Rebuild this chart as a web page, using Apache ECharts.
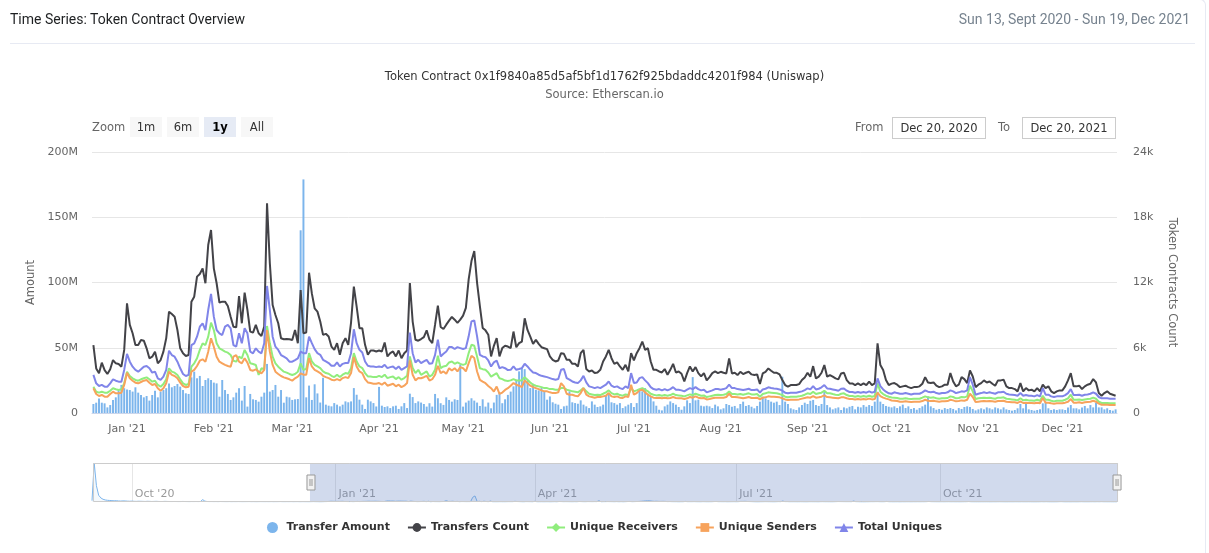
<!DOCTYPE html>
<html>
<head>
<meta charset="utf-8">
<title>Time Series: Token Contract Overview</title>
<script src="https://cdn.jsdelivr.net/npm/echarts@6/dist/echarts.min.js"></script>
<style>
    html, body { margin: 0; padding: 0; background: #fff; }
    #wrap { position: relative; width: 1209px; height: 553px; overflow: hidden; font-family: 'DejaVu Sans', sans-serif; }
    #chart { position: absolute; left: 0; top: 0; width: 1209px; height: 553px; }
    .card-edge { position: absolute; left: -10px; top: 0; width: 1216px; height: 600px; border-right: 1px solid #e7eaf3;
        border-top: 1px solid #e7eaf3; border-top-right-radius: 6px; box-sizing: border-box; top: -1px; }
    .card-head { position: absolute; left: 10px; top: 11px; font: 14px Roboto, sans-serif; color: #1e2022; }
    .card-date { position: absolute; right: 19px; top: 11px; font: 14px Roboto, sans-serif; color: #77838f; }
    .card-line { position: absolute; left: 10px; right: 14px; top: 43px; border-top: 1px solid #e7eaf3; }
    .rs-label { position: absolute; top: 120px; font-size: 11.5px; color: #666; }
    .rs-btn { position: absolute; top: 117px; width: 32px; height: 20px; line-height: 20px; text-align: center;
        background: #f7f7f7; color: #333; font-size: 11.5px; }
    .rs-btn.on { background: #e6ebf5; color: #000; font-weight: bold; }
    .rs-input { position: absolute; top: 117px; width: 92px; height: 20px; line-height: 20px; text-align: center;
        border: 1px solid #ccc; color: #333; font-size: 11.5px; }
</style>
</head>
<body>
<div id="wrap">
    <div class="card-edge"></div>
    <div id="chart"></div>
    <div class="card-head">Time Series: Token Contract Overview</div>
    <div class="card-date">Sun 13, Sept 2020 - Sun 19, Dec 2021</div>
    <div class="card-line"></div>
    <!-- range selector -->
    <div class="rs-label" style="left:92px;">Zoom</div>
    <div class="rs-btn" style="left:130px;">1m</div>
    <div class="rs-btn" style="left:167px;">6m</div>
    <div class="rs-btn on" style="left:204px;">1y</div>
    <div class="rs-btn" style="left:241px;">All</div>
    <div class="rs-label" style="left:855px;">From</div>
    <div class="rs-input" style="left:892px;">Dec 20, 2020</div>
    <div class="rs-label" style="left:998px;">To</div>
    <div class="rs-input" style="left:1022px;">Dec 20, 2021</div>
</div>
<script>
// 第一天的日期，之后每个值一天
const startDate = '2020-09-13';

// 转账金额（百万），2020-09-13 ~ 2020-12-19，只在导航条里看得到
const preAmount = [
    40, 1150, 480, 200, 120, 80, 60, 50, 45, 40, 35, 38, 30, 28, 32, 30, 25, 22,
    25, 20, 18, 22, 20, 18, 16, 20, 18, 15, 17, 19, 16, 14, 15, 18, 16, 14, 13, 15, 14, 12, 13, 16, 14, 12, 11, 13, 12, 14, 12,
    15, 70, 25, 14, 12, 13, 11, 12, 10, 14, 12, 11, 10, 12, 9, 11, 10, 12, 11, 9, 10, 11, 12, 9, 10, 8, 9, 11, 10, 9,
    10, 9, 11, 8, 9, 10, 12, 9, 8, 10, 9, 11, 8, 9, 10, 7, 9, 8, 7
];

// 转账金额（百万），2020-12-20 ~ 2021-12-20
const transferAmount = [
    6.9, 7.9, 11.2, 7.9, 7.4, 4.3, 6.1, 10, 12, 17, 21.5, 19,
    18, 17.6, 16.4, 19.7, 15.6, 13.8, 12, 13, 9.5, 13.8, 17, 12, 16.4, 17.6, 19, 22.7, 19.7, 20.7, 22.2, 20.2, 17.6, 15.1, 14.6, 27.3, 31.7, 26.6, 28.4, 20.7, 25.3, 26.6, 25.3,
    23.3, 22.7, 12.5, 25.3, 17.6, 14.6, 10, 12, 15.6, 19, 9.5, 20.7, 4.9, 14.6, 10.5, 10, 8.7, 12.5, 15.6, 37.6, 16.4, 17.6, 21.5, 12.5, 17.6, 7.9, 12.5, 12,
    10, 10.5, 10.7, 140, 179, 12, 21, 10, 22, 15, 8, 27, 6.4, 5.6, 5.1, 7.6, 6.4, 5.1, 6.4, 8.9, 8.2, 8.9, 19.1, 14, 10.2, 6.4, 3.1, 10.2, 8.9, 7.6, 5,
    20, 5.6, 4.6, 5.1, 3.8, 5.1, 5.6, 3.1, 5.1, 7.6, 3.8, 14.8, 12.2, 7.6, 8.9, 8, 6.9, 4.9, 7.5, 4.9, 14.6, 11.3, 7.5, 6.2, 12, 10, 8.7, 10.5, 10, 37,
    4.9, 8, 9.5, 11.3, 9.5, 8, 5.4, 10.5, 4.9, 8, 3.6, 8, 13.9, 15.7, 7.5, 10.5, 13.9, 16.4, 20.4, 25.5, 31.9, 34.4, 33.6, 25, 19.1, 22.4, 17.8, 17.3, 19.1, 16.6, 10.2,
    12.7, 8.2, 7.1, 6.4, 3.1, 5.1, 5.6, 16.6, 8.2, 7.6, 7.1, 9.7, 6.4, 5.1, 3.8, 8.9, 6.4, 4.6, 5.1, 6.4, 13.2, 15.3, 8.2, 7.6, 6.4, 7.6, 3.8, 5.1, 6.4, 7.6,
    4.6, 7.6, 17.3, 16.6, 19.1, 14.8, 12.7, 8.9, 5.6, 2.5, 2, 5.1, 6.4, 8.9, 7.6, 6.4, 4.6, 2.5, 5.1, 9.7, 7.6, 27.5, 9.7, 10.2, 5.6, 5.1, 5.6, 5.1, 3.8, 6.4, 5.1,
    2.8, 3.6, 6.9, 6.1, 4.8, 5.4, 3.6, 6.9, 8.7, 5.4, 6.1, 4.8, 3.6, 5.4, 8.7, 12.5, 11.2, 10, 8.7, 7.9, 8.7, 6.1, 27.8, 8.7, 6.9, 3.6, 2.8, 2.3, 4.3, 6.1, 7.9,
    6.9, 9.4, 10, 6.1, 5.4, 6.9, 16.3, 6.1, 4.3, 2.8, 3.6, 4.3, 2.3, 4.3, 3.6, 4.8, 5.4, 2.8, 4.8, 4.3, 6.1, 4.8, 6.1, 5.4, 8.7, 16.3, 8.7, 6.9, 5.4, 4.8,
    4.3, 5.1, 3.8, 5.1, 6.4, 3.8, 5.1, 3.1, 3.8, 2.5, 3.8, 5.1, 6.4, 12.7, 5.1, 3.8, 2.5, 3.1, 2.5, 3.8, 3.1, 3.8, 3.1, 2, 3.8, 3.1, 4.6, 5.1, 4.6, 3.1, 2,
    2.8, 3.6, 2.8, 4.3, 3.6, 2.8, 4.3, 3.6, 2.8, 4.3, 2.8, 2.3, 1.8, 2.3, 3.6, 6.9, 3.6, 6.9, 2.8, 2.3, 1.8, 2.3, 2.8, 7.4, 8.7, 3.6, 2.3, 2.8, 2.3, 2.8,
    2.8, 2.3, 4.3, 6.1, 3.6, 3.6, 2.8, 4.3, 5.4, 3.6, 6.1, 4.3, 7.9, 4.3, 4.3, 2.8, 3.6, 2.3, 1.8, 2.8
];

// 转账次数
const transfersCount = [
    6250, 4100, 3650, 4630, 3950, 3590, 4020, 4870, 4570, 4500, 4260, 5800,
    10090, 8100, 7330, 6250, 6250, 6710, 6650, 5950, 5030, 5180, 5640, 4570, 4870, 5640, 6870, 9320, 9100, 8860, 7630, 5950, 5490, 5240, 5330, 10240, 10700, 12540, 12780, 13300, 11930, 15450, 16830,
    13300, 11930, 10150, 10240, 10240, 9840, 8860, 7940, 7880, 10760, 8250, 11070, 9470, 7480, 7390, 8100, 7330, 7080, 7940, 19280, 13770, 9930, 9010, 8250, 6870, 6780, 6810, 6780,
    6710, 7630, 6410, 11310, 7340, 7400, 12900, 11000, 9630, 9320, 8410, 7180, 7280, 7030, 6110, 5810, 6420, 5350, 6420, 6880, 6270, 8320, 11620, 9780, 7800, 7800, 6270, 5350, 5750, 5750, 5660,
    5750, 5660, 6480, 5200, 5500, 5660, 5200, 5750, 5040, 5500, 5750, 11950, 8410, 6730, 6650, 6800, 6980, 7600, 6740, 6430, 8120, 9880, 7910, 7720, 8120, 8490, 8830, 8580, 8280, 8580,
    8950, 9660, 12280, 13970, 14890, 11970, 9820, 7820, 7600, 7200, 5200, 6180, 6890, 5200, 5970, 6180, 6110, 5960, 7490, 6050, 6420, 6570, 8710, 7640, 7030, 6360, 6730, 6360, 6050, 5960, 5870,
    5200, 4890, 4740, 4830, 5500, 5440, 4890, 4890, 4520, 4520, 4280, 5500, 5810, 4040, 3820, 3910, 3670, 3730, 3970, 4740, 5200, 5810, 5040, 4520, 4650, 4280, 3970, 4430, 3820, 5500,
    4830, 5500, 5960, 6570, 5810, 5960, 4740, 3970, 3970, 3820, 3730, 4040, 3520, 3970, 4520, 3730, 3820, 3610, 2900, 3670, 4280, 3820, 4220, 3670, 3360, 3670, 3000, 3300, 3670, 3820, 3670,
    3790, 3700, 3640, 5020, 3640, 3700, 3490, 3790, 3580, 3700, 3790, 3550, 3490, 3550, 2660, 3640, 3790, 4100, 3890, 3700, 3700, 3550, 3030, 2570, 2420, 2570, 2570, 2570, 2660, 3030, 3270,
    3700, 3340, 4310, 3180, 3340, 3700, 4410, 3340, 3490, 3340, 3180, 3090, 3640, 3700, 3030, 2720, 2720, 2570, 2720, 2570, 2720, 2570, 2880, 2570, 2720, 6400, 4410, 3950, 3030, 2570,
    2700, 2750, 2600, 2380, 2450, 2510, 2380, 2290, 2380, 2380, 2450, 2690, 3300, 2810, 2750, 2810, 2510, 2380, 2450, 2600, 2600, 3670, 2900, 2450, 2600, 3300, 3120, 2750, 3910, 3360, 2380,
    2600, 2750, 3000, 2810, 2900, 2690, 2510, 3000, 3000, 3060, 2450, 2290, 2290, 2200, 1990, 2750, 1990, 2290, 2080, 2140, 1990, 2290, 1990, 2600, 2290, 2450, 1990, 1830, 1990, 2080,
    2080, 2450, 3000, 3670, 2450, 2450, 2510, 2200, 2450, 2600, 2690, 3120, 2810, 1830, 1590, 1830, 1990, 1770, 1680, 1590
];

// 唯一接收地址
const uniqueReceivers = [
    2420, 1960, 1870, 1960, 1870, 1870, 2050, 2270, 2180, 2120, 2180, 2730,
    3800, 3400, 3190, 3040, 2970, 3100, 3190, 3280, 3100, 2880, 2970, 2580, 2420, 2670, 3100, 4110, 3800, 3710, 3500, 3100, 2730, 2580, 2670, 4260, 4570, 5030, 5800, 6410, 6250, 7020, 8310,
    7630, 6410, 5950, 5800, 5640, 5550, 5330, 4810, 4720, 5180, 5030, 5800, 5330, 4570, 4510, 4420, 3500, 4110, 4020, 8000, 6410, 5180, 4570, 4260, 4020, 3800, 3710, 3590,
    3500, 3590, 3800, 4570, 3970, 4040, 5500, 4740, 4430, 4280, 4130, 3820, 3670, 3610, 3420, 3300, 3520, 3300, 3520, 3670, 3610, 4130, 5500, 4740, 4280, 4130, 3670, 3360, 3360, 3300, 3300,
    3420, 3300, 3520, 3210, 3300, 3360, 3120, 3300, 3060, 3210, 3420, 5200, 4130, 3670, 3970, 3510, 3660, 3820, 3350, 3510, 3970, 5260, 4120, 4280, 4340, 4650, 4740, 4520, 4650, 4520,
    4430, 4520, 5510, 6280, 6180, 5200, 4120, 4030, 3970, 3720, 3350, 3510, 3660, 3200, 3110, 2980, 2950, 3000, 3120, 3000, 3000, 3000, 3300, 3060, 2810, 2600, 2510, 2450, 2380, 2290, 2290,
    2200, 2200, 2140, 2140, 2290, 2290, 2140, 2080, 1990, 1960, 1900, 2080, 2290, 1990, 1770, 1710, 1650, 1680, 1650, 1770, 1900, 2080, 1830, 1710, 1770, 1650, 1590, 1710, 1650, 2290,
    1990, 2080, 2200, 2290, 2140, 1990, 1770, 1680, 1620, 1650, 1590, 1650, 1590, 1650, 1770, 1650, 1620, 1590, 1530, 1620, 1710, 1650, 1770, 1680, 1590, 1620, 1470, 1530, 1590, 1650, 1680,
    1650, 1680, 1740, 1990, 1740, 1740, 1710, 1740, 1680, 1740, 1810, 1710, 1710, 1740, 1500, 1740, 1810, 1900, 1870, 1840, 1810, 1740, 1650, 1500, 1440, 1500, 1500, 1500, 1530, 1590, 1680,
    1810, 1740, 1960, 1740, 1810, 1870, 2050, 1810, 1810, 1740, 1680, 1650, 1770, 1810, 1650, 1560, 1560, 1500, 1560, 1500, 1560, 1500, 1590, 1500, 1560, 2720, 1960, 1740, 1590, 1500,
    1420, 1410, 1380, 1310, 1310, 1350, 1310, 1280, 1310, 1310, 1310, 1410, 1530, 1440, 1410, 1440, 1350, 1310, 1350, 1350, 1380, 1530, 1470, 1350, 1380, 1470, 1440, 1530, 2510, 1990, 1280,
    1350, 1380, 1410, 1380, 1410, 1350, 1310, 1410, 1410, 1440, 1310, 1280, 1250, 1220, 1160, 1350, 1160, 1220, 1160, 1160, 1130, 1220, 1130, 1590, 1220, 1220, 1130, 1070, 1130, 1130,
    1130, 1220, 1350, 1680, 1220, 1220, 1250, 1190, 1250, 1280, 1310, 1410, 1310, 1040, 920, 920, 920, 890, 890, 890
];

// 唯一发送地址
const uniqueSenders = [
    2270, 1750, 1560, 1660, 1500, 1500, 1750, 1960, 1810, 1810, 1870, 2580,
    3710, 3190, 2970, 2790, 2730, 2850, 2970, 3040, 2790, 2580, 2670, 2270, 2050, 2270, 2730, 3800, 3500, 3400, 3190, 2790, 2480, 2360, 2420, 3800, 3960, 4320, 4810, 4940, 4720, 5640, 6870,
    6100, 5180, 4720, 4570, 4420, 4320, 4260, 5180, 5330, 4720, 4570, 5030, 4630, 3960, 3890, 4020, 3800, 3650, 3960, 7630, 5640, 4420, 3800, 3590, 3400, 3280, 3190, 3100,
    2970, 3190, 3340, 3650, 3520, 3520, 5040, 4280, 3970, 3820, 3670, 3420, 3300, 3210, 3060, 3000, 3120, 3000, 3210, 3300, 3210, 3670, 5140, 4280, 3820, 3670, 3120, 2810, 2750, 2690, 2690,
    2750, 2600, 2810, 2510, 2600, 2690, 2450, 2600, 2380, 2510, 2750, 4830, 3520, 3000, 3210, 3200, 3290, 3420, 2980, 3110, 3510, 4340, 3660, 3820, 3600, 4120, 3910, 4120, 3820, 4220,
    4120, 3820, 4580, 5260, 5050, 3820, 3050, 2890, 2740, 2490, 2280, 1970, 2430, 1750, 1880, 2120, 2280, 2510, 2750, 2600, 2510, 2380, 3000, 2750, 2510, 2380, 2290, 2200, 2080, 1990, 1990,
    1900, 1830, 1830, 1900, 2750, 2450, 1770, 1680, 1680, 1590, 1530, 1830, 2290, 1680, 1530, 1470, 1410, 1470, 1470, 1530, 1590, 1830, 1530, 1470, 1530, 1410, 1380, 1530, 1470, 2600,
    1680, 1830, 2080, 2140, 1900, 1680, 1530, 1410, 1380, 1410, 1350, 1410, 1350, 1380, 1470, 1380, 1350, 1350, 1280, 1350, 1470, 1410, 1530, 1410, 1350, 1380, 1250, 1280, 1350, 1410, 1410,
    1410, 1410, 1470, 1770, 1470, 1470, 1440, 1410, 1350, 1410, 1470, 1380, 1380, 1410, 1250, 1410, 1440, 1530, 1500, 1500, 1470, 1440, 1350, 1250, 1190, 1220, 1220, 1220, 1250, 1320, 1380,
    1440, 1410, 1560, 1410, 1440, 1500, 1620, 1470, 1440, 1410, 1380, 1350, 1440, 1440, 1350, 1290, 1290, 1250, 1290, 1250, 1290, 1250, 1320, 1250, 1290, 1870, 1560, 1410, 1320, 1250,
    1150, 1130, 1100, 1040, 1040, 1070, 1040, 1010, 1040, 1040, 1040, 1100, 1220, 1130, 1100, 1130, 1070, 1040, 1070, 1070, 1100, 1220, 1160, 1070, 1100, 1160, 1130, 1220, 1770, 1470, 1010,
    1040, 1070, 1100, 1070, 1100, 1070, 1040, 1100, 1100, 1130, 1040, 1010, 980, 980, 920, 1070, 920, 950, 920, 920, 890, 950, 890, 1380, 950, 950, 890, 860, 890, 890,
    890, 950, 1040, 1280, 950, 950, 980, 920, 980, 1010, 1040, 1130, 1040, 860, 760, 760, 760, 730, 730, 730
];

// 唯一地址总数
const totalUniques = [
    3500, 2730, 2480, 2580, 2420, 2420, 2730, 3100, 2970, 2880, 2880, 3960,
    5430, 4720, 4260, 3960, 3800, 4020, 4260, 4320, 4110, 3710, 3800, 3190, 3040, 3340, 3960, 5730, 5330, 5180, 4720, 4110, 3590, 3400, 3500, 6250, 6410, 7020, 7940, 8250, 7630, 9470, 10950,
    8860, 7630, 7330, 7170, 7940, 8100, 7790, 6250, 6100, 7330, 6410, 7790, 7330, 5640, 5490, 5950, 5640, 5490, 6410, 11680, 9470, 7020, 6100, 5800, 5330, 5180, 5030, 4720,
    4720, 4870, 5030, 5640, 5500, 5500, 7030, 6420, 5870, 5500, 5350, 4890, 4740, 4590, 4340, 4340, 4650, 4280, 4520, 4590, 4590, 5500, 7700, 6420, 5810, 5560, 4740, 4340, 4280, 4280, 4220,
    4280, 4220, 4430, 4130, 4220, 4280, 4040, 4280, 3970, 4130, 4280, 7400, 5500, 4650, 4890, 4580, 4740, 4890, 4520, 4580, 5350, 6740, 5200, 5450, 5660, 6060, 6060, 5880, 6060, 5970,
    5880, 5970, 7050, 8430, 8520, 7050, 5350, 5200, 5140, 4830, 4280, 4650, 4830, 4120, 4220, 4120, 3950, 3970, 4280, 3970, 4040, 4130, 4520, 4280, 3970, 3730, 3670, 3520, 3420, 3360, 3300,
    3210, 3120, 3060, 3120, 3970, 4040, 3210, 3060, 2900, 2810, 2750, 3000, 3420, 2810, 2450, 2380, 2290, 2380, 2290, 2450, 2600, 2900, 2510, 2380, 2450, 2290, 2200, 2450, 2290, 3670,
    2750, 2810, 3210, 3300, 3000, 2750, 2380, 2200, 2140, 2200, 2080, 2200, 2080, 2200, 2380, 2140, 2140, 2080, 1990, 2140, 2290, 2200, 2380, 2200, 2080, 2140, 1900, 1990, 2080, 2200, 2200,
    2140, 2200, 2290, 2600, 2290, 2290, 2200, 2170, 2110, 2170, 2230, 2110, 2110, 2170, 1870, 2170, 2230, 2360, 2300, 2260, 2230, 2170, 2050, 1870, 1810, 1870, 1870, 1870, 1930, 1990, 2110,
    2260, 2170, 2480, 2170, 2230, 2360, 2570, 2260, 2230, 2170, 2110, 2050, 2230, 2260, 2050, 1930, 1930, 1870, 1930, 1870, 1930, 1870, 1990, 1870, 1960, 3180, 2480, 2170, 1960, 1810,
    1770, 1900, 1830, 1770, 1770, 1830, 1770, 1710, 1770, 1770, 1770, 1900, 2080, 1960, 1900, 1960, 1830, 1770, 1830, 1830, 1900, 2080, 1990, 1830, 1900, 1990, 1960, 2080, 3300, 2600, 1680,
    1770, 1830, 1900, 1830, 1900, 1830, 1770, 1900, 1900, 1960, 1770, 1710, 1680, 1650, 1590, 1830, 1590, 1650, 1590, 1590, 1530, 1650, 1530, 2290, 1680, 1680, 1530, 1470, 1530, 1530,
    1530, 1650, 1830, 2200, 1650, 1650, 1680, 1590, 1680, 1710, 1770, 1900, 1770, 1470, 1350, 1350, 1350, 1310, 1310, 1310
];

// 坐标轴刻度
const amountTicks = [0, 50, 100, 150, 200];
const countTicks = [0, 6000, 12000, 18000, 24000];
const monthNames = ['Jan', 'Feb', 'Mar', 'Apr', 'May', 'Jun', 'Jul', 'Aug', 'Sep', 'Oct', 'Nov', 'Dec'];

// 按天生成日期
function buildDates(start, n) {
    let parts = start.split('-');
    let t0 = Date.UTC(+parts[0], +parts[1] - 1, +parts[2]);
    let res = [];
    for (let i = 0; i < n; i++) {
        res.push(new Date(t0 + i * 86400000).toISOString().slice(0, 10));
    }
    return res;
}

function isMonthStart(index, value) {
    return value.slice(8) === '01';
}

function isQuarterStart(index, value) {
    let md = value.slice(5);
    return md === '01-01' || md === '04-01' || md === '07-01' || md === '10-01';
}

function monthLabel(value) {
    return monthNames[+value.slice(5, 7) - 1] + " '" + value.slice(2, 4);
}

let allAmount = preAmount.concat(transferAmount);
let dates = buildDates(startDate, allAmount.length);
// 折线在一年窗口之前没有数据
let pad = preAmount.map(function () { return null; });

const FONT = 'DejaVu Sans';
let axisText = {color: '#666666', fontSize: 11, fontFamily: FONT};

function lineSeries(name, data, color, symbol) {
    return {
        name: name,
        type: 'line',
        xAxisIndex: 0,
        yAxisIndex: 1,
        data: pad.concat(data),
        symbol: symbol,
        symbolSize: 7,
        showSymbol: false,
        lineStyle: {color: color, width: 2},
        itemStyle: {color: color},
        emphasis: {disabled: true}
    };
}

let chart = echarts.init(document.getElementById('chart'));

let option = {
    animation: false,
    textStyle: {fontFamily: FONT},
    title: {
        text: 'Token Contract 0x1f9840a85d5af5bf1d1762f925bdaddc4201f984 (Uniswap)',
        subtext: 'Source: Etherscan.io',
        left: 'center',
        top: 66,
        itemGap: 6,
        textStyle: {color: '#333333', fontSize: 11.5, fontWeight: 'normal', fontFamily: FONT},
        subtextStyle: {color: '#666666', fontSize: 11.5, fontFamily: FONT}
    },
    legend: {
        top: 517,
        left: 'center',
        itemGap: 17,
        itemWidth: 18,
        itemHeight: 11,
        textStyle: {color: '#333333', fontSize: 11, fontWeight: 'bold', fontFamily: FONT},
        data: [
            {name: 'Transfer Amount', icon: 'circle'},
            'Transfers Count', 'Unique Receivers', 'Unique Senders', 'Total Uniques'
        ]
    },
    grid: [
        {left: 92, right: 92, top: 152, height: 261},
        {left: 92, right: 92, top: 463, height: 39}
    ],
    xAxis: [
        {
            type: 'category',
            gridIndex: 0,
            data: dates,
            boundaryGap: true,
            axisLine: {lineStyle: {color: '#ccd6eb'}},
            axisTick: {alignWithLabel: true, interval: isMonthStart, length: 5, lineStyle: {color: '#ccd6eb'}},
            axisLabel: Object.assign({interval: isMonthStart, formatter: monthLabel, margin: 11}, axisText),
            splitLine: {show: false}
        },
        {
            // 导航条
            type: 'category',
            gridIndex: 1,
            data: dates,
            boundaryGap: false,
            axisLine: {show: false},
            axisTick: {show: false},
            axisLabel: {
                inside: true, interval: isQuarterStart, formatter: monthLabel,
                color: '#999999', fontSize: 11, fontFamily: FONT, align: 'left', padding: [0, 0, 0, 3], margin: 2
            },
            splitLine: {show: true, interval: isQuarterStart, lineStyle: {color: '#e6e6e6'}}
        }
    ],
    yAxis: [
        {
            type: 'value',
            gridIndex: 0,
            position: 'left',
            min: amountTicks[0],
            max: amountTicks[amountTicks.length - 1],
            interval: amountTicks[1] - amountTicks[0],
            name: 'Amount',
            nameLocation: 'middle',
            nameRotate: 90,
            nameGap: 53,
            nameTextStyle: {color: '#666666', fontSize: 11.5, fontFamily: FONT},
            axisLine: {show: false},
            axisTick: {show: false},
            axisLabel: Object.assign({margin: 14, formatter: function (v) { return v === 0 ? '0' : v + 'M'; }}, axisText),
            splitLine: {lineStyle: {color: '#e6e6e6'}}
        },
        {
            type: 'value',
            gridIndex: 0,
            position: 'right',
            min: countTicks[0],
            max: countTicks[countTicks.length - 1],
            interval: countTicks[1] - countTicks[0],
            name: 'Token Contracts Count',
            nameLocation: 'middle',
            nameRotate: -90,
            nameGap: 49,
            nameTextStyle: {color: '#666666', fontSize: 11.5, fontFamily: FONT},
            axisLine: {show: false},
            axisTick: {show: false},
            axisLabel: Object.assign({margin: 16, formatter: function (v) { return v === 0 ? '0' : (v / 1000) + 'k'; }}, axisText),
            splitLine: {show: false}
        },
        {
            type: 'value',
            gridIndex: 1,
            show: false,
            min: 0,
            max: 'dataMax'
        }
    ],
    dataZoom: [
        {
            type: 'slider',
            xAxisIndex: 0,
            left: 92,
            right: 92,
            top: 463,
            height: 39,
            startValue: '2020-12-20',
            endValue: dates[dates.length - 1],
            showDataShadow: false,
            showDetail: false,
            brushSelect: false,
            backgroundColor: 'rgba(0,0,0,0)',
            borderColor: '#cccccc',
            fillerColor: 'rgba(102,133,194,0.3)',
            handleIcon: 'path://M0,0 h8 v15 h-8 z M3,4 v7 M5,4 v7',
            handleSize: 15,
            handleStyle: {color: '#f2f2f2', borderColor: '#999999', borderWidth: 1},
            moveHandleSize: 0,
            moveHandleStyle: {opacity: 0}
        }
    ],
    series: [
        {
            name: 'Transfer Amount',
            type: 'bar',
            xAxisIndex: 0,
            yAxisIndex: 0,
            data: allAmount,
            barCategoryGap: '30%',
            itemStyle: {color: '#7cb5ec'},
            emphasis: {disabled: true}
        },
        lineSeries('Transfers Count', transfersCount, '#434348', 'circle'),
        lineSeries('Unique Receivers', uniqueReceivers, '#90ed7d', 'diamond'),
        lineSeries('Unique Senders', uniqueSenders, '#f7a35c', 'rect'),
        lineSeries('Total Uniques', totalUniques, '#8085e9', 'triangle'),
        {
            // 导航条里的全程金额
            name: 'navigator',
            type: 'line',
            xAxisIndex: 1,
            yAxisIndex: 2,
            data: allAmount,
            showSymbol: false,
            silent: true,
            lineStyle: {color: '#7cb5ec', width: 1},
            areaStyle: {color: 'rgba(124,181,236,0.12)'}
        }
    ]
};

chart.setOption(option);
</script>
</body>
</html>
